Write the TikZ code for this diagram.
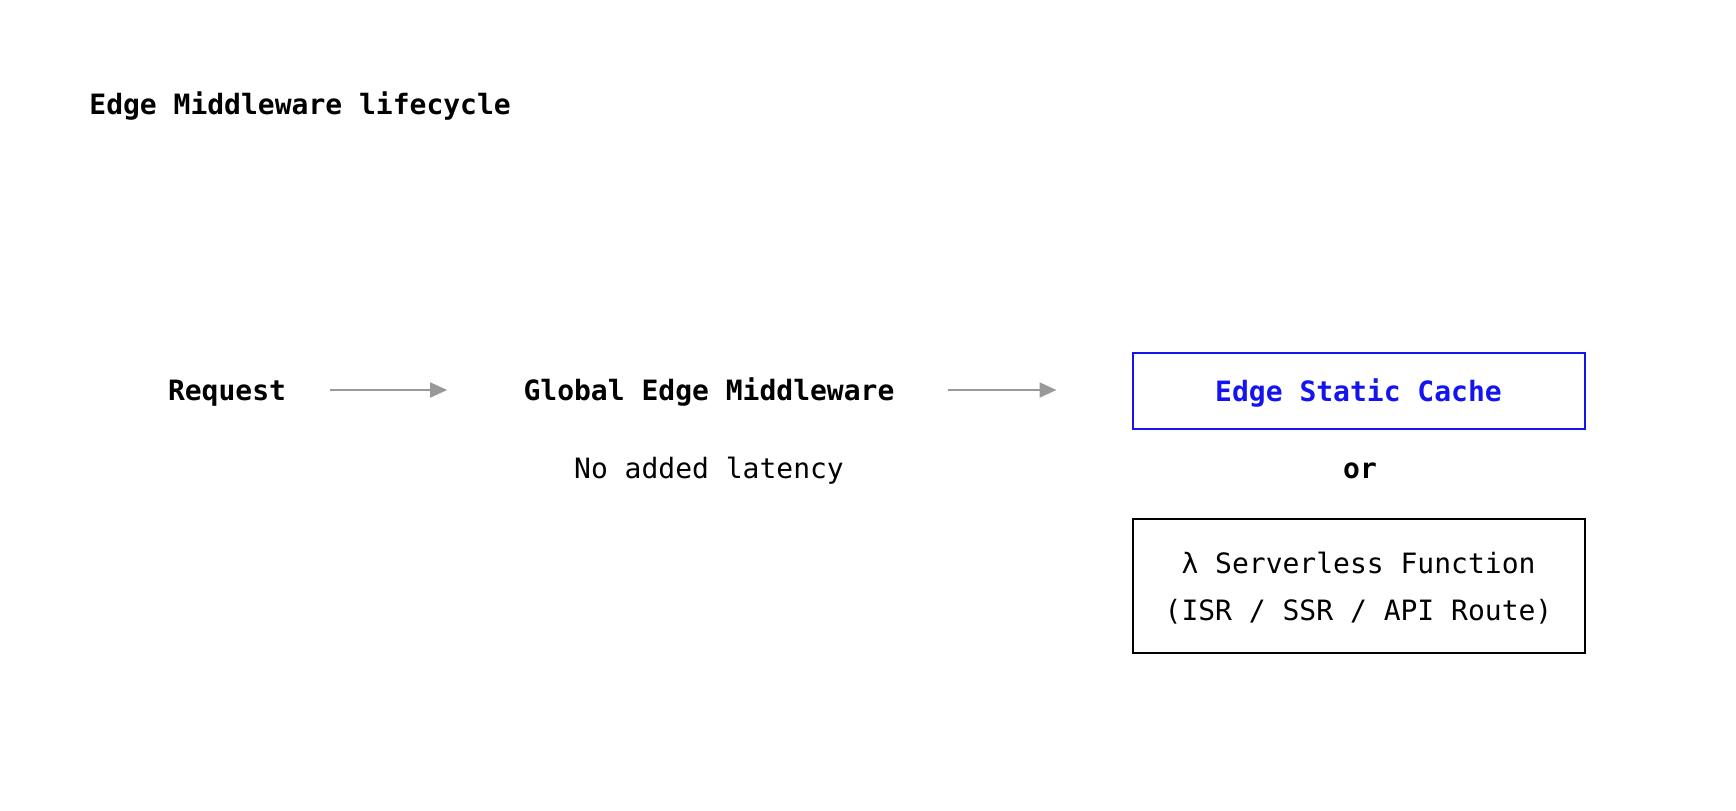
\documentclass[tikz,border=0pt]{standalone}
\usepackage{fontspec}
\setmainfont{DejaVu Sans Mono}
\usepackage{tikz}
\usetikzlibrary{arrows.meta}
\definecolor{arrowgray}{RGB}{153,153,153}
\definecolor{cacheblue}{RGB}{20,20,240}

\begin{document}
\begin{tikzpicture}[x=.5pt, y=-.5pt,
	txt/.style={inner sep=0pt, text height=10.2pt, text depth=0pt, font=\fontsize{14pt}{23.5pt}\selectfont},
	bold/.style={txt, font=\fontsize{14pt}{23.5pt}\selectfont\bfseries},
	flow/.style={draw=arrowgray, line width=1pt, -{Triangle[length=8.5pt,width=7.5pt]}},
	box/.style={draw, line width=1pt, minimum width=226pt, align=center}]
				\useasboundingbox (0,0) rectangle (1736,810);
				\node[bold, anchor=west] (title) at (89,104) {Edge Middleware lifecycle};
				\node[bold] (req) at (227,390) {Request};
				\node[bold] (gem) at (709,390) {Global Edge Middleware};
				\node[txt] (lat) at (709,468) {No added latency};
				\node[box, bold, draw=cacheblue, text=cacheblue, minimum height=38pt] (cache) at (1358.5,391) {Edge Static Cache};
				\node[bold] (or) at (1360,468) {or};
				\node[box, font=\fontsize{14pt}{23.5pt}\selectfont, minimum height=67pt, text depth=0pt] (fn) at (1358.5,586) {λ Serverless Function\\(ISR / SSR / API Route)};
				\draw[flow, shorten <=22pt, shorten >=38pt] (req.east) -- (req.east -| gem.west);
				\draw[flow, shorten <=26.5pt, shorten >=37.5pt] (gem.east) -- (gem.east -| cache.west);
			\end{tikzpicture}
\end{document}
